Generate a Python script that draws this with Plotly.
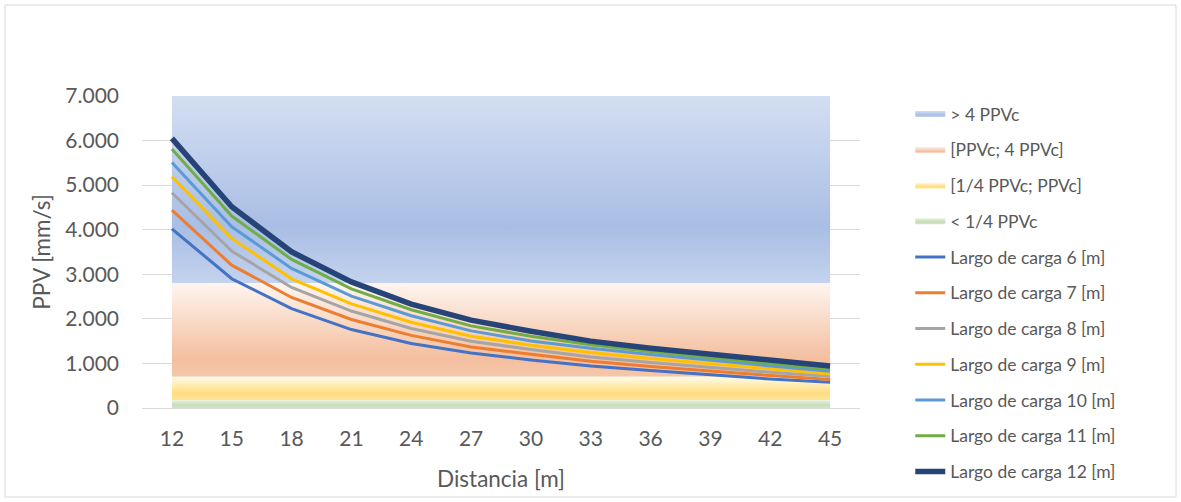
import plotly.graph_objects as go

# Distance from the blast (m)
distancia = [12, 15, 18, 21, 24, 27, 30, 33, 36, 39, 42, 45]

# Peak particle velocity (mm/s) for each charge length
ppv_6 = [4020, 2900, 2230, 1760, 1446, 1235, 1075, 940, 840, 738, 650, 577]
ppv_7 = [4440, 3205, 2480, 1985, 1630, 1370, 1206, 1050, 932, 824, 728, 638]
ppv_8 = [4830, 3520, 2704, 2175, 1783, 1498, 1312, 1145, 1023, 907, 802, 705]
ppv_9 = [5190, 3805, 2898, 2337, 1925, 1610, 1408, 1245, 1113, 997, 876, 764]
ppv_10 = [5510, 4066, 3131, 2509, 2070, 1730, 1505, 1340, 1199, 1065, 944, 824]
ppv_11 = [5810, 4306, 3333, 2674, 2205, 1842, 1610, 1420, 1265, 1123, 997, 876]
ppv_12 = [6050, 4515, 3504, 2830, 2330, 1970, 1723, 1500, 1341, 1199, 1071, 944]

series_names = [
    "Largo de carga 6 [m]", "Largo de carga 7 [m]", "Largo de carga 8 [m]",
    "Largo de carga 9 [m]", "Largo de carga 10 [m]", "Largo de carga 11 [m]",
    "Largo de carga 12 [m]",
]
series_values = [ppv_6, ppv_7, ppv_8, ppv_9, ppv_10, ppv_11, ppv_12]
series_colors = ["#4472C4", "#ED7D31", "#A5A5A5", "#FFC000", "#5B9BD5", "#70AD47", "#264478"]
series_widths = [3, 3, 3, 3, 3, 3, 5.5]

# Damage zones relative to the critical velocity PPVc
ppvc = 700
zone_names = ["> 4 PPVc", "[PPVc; 4 PPVc]", "[1/4 PPVc; PPVc]", "< 1/4 PPVc"]
zone_lower = [4 * ppvc, ppvc, ppvc / 4, 0]
zone_upper = [7000, 4 * ppvc, ppvc, ppvc / 4]
zone_gradients = [
    [[0, "#c4d3ee"], [0.3, "#a9bee4"], [1, "#d3def2"]],
    [[0, "#f6c6a9"], [0.2, "#f4bf9f"], [1, "#fef5f0"]],
    [[0, "#ffe49a"], [0.3, "#ffdd80"], [1, "#fffbeb"]],
    [[0, "#d2e5c6"], [0.4, "#c7deb6"], [1, "#e8f1e1"]],
]

y_ticks = [0, 1000, 2000, 3000, 4000, 5000, 6000, 7000]
y_tick_text = ["0", "1.000", "2.000", "3.000", "4.000", "5.000", "6.000", "7.000"]

FONT = "Lato"
GREY = "#595959"

fig = go.Figure()

for name, lo, hi, grad in zip(zone_names, zone_lower, zone_upper, zone_gradients):
    n = len(distancia)
    fig.add_trace(go.Scatter(
        x=distancia + distancia[::-1],
        y=[hi] * n + [lo] * n,
        mode="none",
        fill="toself",
        fillgradient=dict(type="vertical", colorscale=grad, start=lo, stop=hi),
        name=name,
        legendgroup=name,
        hoverinfo="skip",
    ))

for name, vals, color, width in zip(series_names, series_values, series_colors, series_widths):
    fig.add_trace(go.Scatter(
        x=distancia,
        y=vals,
        mode="lines",
        line=dict(color=color, width=width),
        name=name,
        legendgroup=name,
    ))

# Outer chart frame
fig.add_shape(
    type="rect", xref="paper", yref="paper",
    x0=(5 - 142) / 718, x1=(1176 - 142) / 718,
    y0=(408 - 497) / 312, y1=(408 - 5) / 312,
    line=dict(color="#d9d9d9", width=1), fillcolor="rgba(0,0,0,0)", layer="below",
)

fig.update_layout(
    width=1181,
    height=502,
    margin=dict(l=142, r=321, t=96, b=94),
    paper_bgcolor="white",
    plot_bgcolor="white",
    font=dict(family=FONT, color=GREY),
    showlegend=True,
    legend=dict(
        x=1.07, xanchor="left",
        y=1.0, yanchor="top",
        font=dict(family=FONT, size=17.5, color=GREY),
        tracegroupgap=10,
        traceorder="grouped",
        bgcolor="rgba(0,0,0,0)",
        maxheight=500,
    ),
    xaxis=dict(
        range=[10.5, 46.5],
        tickvals=distancia,
        ticktext=[str(d) for d in distancia],
        showgrid=False,
        zeroline=False,
        showline=False,
        ticks="",
        ticklabelstandoff=16,
        tickfont=dict(family=FONT, size=21, color=GREY),
        title=dict(text="Distancia [m]", font=dict(family=FONT, size=22.5, color=GREY), standoff=22),
    ),
    yaxis=dict(
        range=[0, 7000],
        tickvals=y_ticks,
        ticktext=y_tick_text,
        showgrid=True,
        gridcolor="#d9d9d9",
        gridwidth=1,
        zeroline=True,
        zerolinecolor="#d9d9d9",
        zerolinewidth=1,
        showline=False,
        ticks="",
        ticklabelstandoff=22,
        tickfont=dict(family=FONT, size=21, color=GREY),
        title=dict(text="PPV [mm/s]", font=dict(family=FONT, size=22.5, color=GREY), standoff=8),
    ),
)

fig.write_html("out.html")
